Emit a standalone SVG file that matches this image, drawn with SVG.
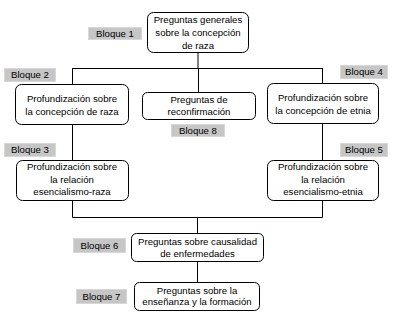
<svg xmlns="http://www.w3.org/2000/svg" width="400" height="314" viewBox="0 0 400 314">
<style>
.box{fill:#fff;stroke:#000;stroke-width:1}
.lbl{fill:#c6c6c6;stroke:#d8d8d8;stroke-width:1}
.t{font-family:"Liberation Sans",Arial,sans-serif;font-size:9.6px;fill:#000;text-anchor:middle}
.c{fill:none;stroke:#000;stroke-width:1}
</style>
<rect width="400" height="314" fill="#fff"/>
<g id="connectors">
<path class="c" d="M198 52V68M72.5 68.5H322.5M72.5 68V84M198.5 68V92M322.5 68V83"/>
<path class="c" d="M72.5 124V160M322.5 123V160M72.5 200V217.5H322.5V200M197.5 217V233M197.5 261V282"/>
</g>
<g id="bloque1"><rect class="lbl" x="88.5" y="27.5" width="53" height="12"/><text class="t" x="115" y="36.8">Bloque 1</text></g>
<g id="bloque2"><rect class="lbl" x="4.5" y="68.5" width="51" height="13"/><text class="t" x="30" y="78.3">Bloque 2</text></g>
<g id="bloque4"><rect class="lbl" x="340.5" y="65.5" width="47" height="13"/><text class="t" x="364" y="75.3">Bloque 4</text></g>
<g id="bloque8"><rect class="lbl" x="171.5" y="124.5" width="53" height="12"/><text class="t" x="198" y="133.8">Bloque 8</text></g>
<g id="bloque3"><rect class="lbl" x="4.5" y="143.5" width="51" height="13"/><text class="t" x="30" y="153.3">Bloque 3</text></g>
<g id="bloque5"><rect class="lbl" x="340.5" y="143.5" width="47" height="13"/><text class="t" x="364" y="153.3">Bloque 5</text></g>
<g id="bloque6"><rect class="lbl" x="73.5" y="238.5" width="52" height="14"/><text class="t" x="99.5" y="248.8">Bloque 6</text></g>
<g id="bloque7"><rect class="lbl" x="76.5" y="289.5" width="50" height="14"/><text class="t" x="101.5" y="299.8">Bloque 7</text></g>
<g id="n1"><rect class="box" x="147.5" y="12.5" width="101" height="40" rx="6"/>
<text class="t" x="198" y="22.8">Preguntas generales</text><text class="t" x="198" y="35.8">sobre la concepción</text><text class="t" x="198" y="48.8">de raza</text></g>
<g id="n2"><rect class="box" x="15.5" y="84.5" width="113" height="40" rx="6"/>
<text class="t" x="72" y="102.3">Profundización sobre</text><text class="t" x="72" y="114.8">la concepción de raza</text></g>
<g id="n8"><rect class="box" x="142.5" y="92.5" width="113" height="27" rx="5"/>
<text class="t" x="199" y="102.8">Preguntas de</text><text class="t" x="199" y="115.3">reconfirmación</text></g>
<g id="n4"><rect class="box" x="267.5" y="83.5" width="111" height="40" rx="6"/>
<text class="t" x="323" y="101.3">Profundización sobre</text><text class="t" x="323" y="113.8">la concepción de etnia</text></g>
<g id="n3"><rect class="box" x="16.5" y="160.5" width="112" height="40" rx="6"/>
<text class="t" x="72" y="170.3">Profundización sobre</text><text class="t" x="72" y="182.8">la relación</text><text class="t" x="72" y="195.3">esencialismo-raza</text></g>
<g id="n5"><rect class="box" x="267.5" y="160.5" width="111" height="40" rx="6"/>
<text class="t" x="323" y="170.3">Profundización sobre</text><text class="t" x="323" y="182.8">la relación</text><text class="t" x="323" y="195.3">esencialismo-etnia</text></g>
<g id="n6"><rect class="box" x="131.5" y="233.5" width="132" height="28" rx="5"/>
<text class="t" x="197.5" y="245.3">Preguntas sobre causalidad</text><text class="t" x="197.5" y="257.3">de enfermedades</text></g>
<g id="n7"><rect class="box" x="134.5" y="282.5" width="125" height="28" rx="5"/>
<text class="t" x="197" y="293.8">Preguntas sobre la</text><text class="t" x="197" y="305.3">enseñanza y la formación</text></g>
</svg>
